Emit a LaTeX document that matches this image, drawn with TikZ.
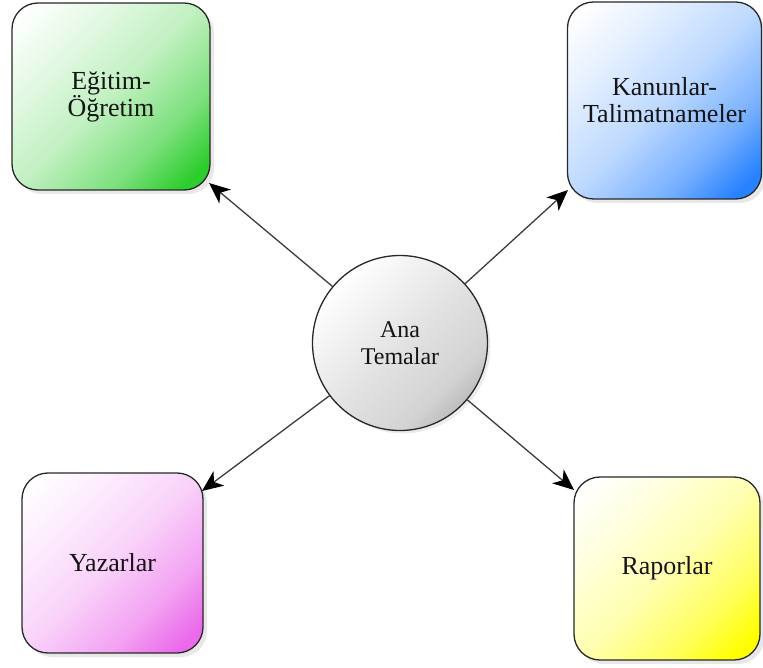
\documentclass[tikz,border=0pt]{standalone}
\usepackage{fontspec}
\setmainfont{Liberation Serif}
\usetikzlibrary{arrows.meta,shadows}
\definecolor{gEnd}{RGB}{45,205,45}
\definecolor{bEnd}{RGB}{40,130,255}
\definecolor{pEnd}{RGB}{235,105,235}
\definecolor{yEnd}{RGB}{255,255,0}
\definecolor{hEnd}{RGB}{175,175,175}
\definecolor{edgeC}{RGB}{40,40,40}
\definecolor{lineC}{RGB}{60,60,60}
\definecolor{txtC}{RGB}{20,20,20}
\newcommand\mkboxshade[2]{%
  \pgfdeclareverticalshading{#1}{100bp}{color(0bp)=(#2); color(20bp)=(#2);
    color(33bp)=(#2!62!white); color(50bp)=(#2!30!white); color(68bp)=(#2!12!white);
    color(82bp)=(white); color(100bp)=(white)}}
\mkboxshade{shG}{gEnd}
\mkboxshade{shB}{bEnd}
\mkboxshade{shP}{pEnd}
\mkboxshade{shY}{yEnd}
\pgfdeclareverticalshading{shH}{100bp}{color(0bp)=(hEnd); color(20bp)=(hEnd);
    color(32bp)=(hEnd!55!white); color(50bp)=(hEnd!35!white); color(75bp)=(white); color(100bp)=(white)}
\tikzset{
  themebox/.style={draw=edgeC, line width=1.3pt, rounded corners=26pt, inner sep=0pt,
    align=center, text=txtC, font=\fontsize{26}{27}\selectfont,
    drop shadow={shadow xshift=4pt, shadow yshift=-4pt, opacity=0.18, fill=gray}},
  shadeit/.style={shading=#1, shading angle=45},
  hub/.style={circle, draw=edgeC, line width=1.3pt, inner sep=0pt, minimum size=175pt,
    align=center, text=txtC, font=\fontsize{24}{27}\selectfont,
    shading=shH, shading angle=45,
    drop shadow={shadow xshift=3pt, shadow yshift=-3pt, opacity=0.15, fill=gray}},
  link/.style={draw=lineC, line width=1.3pt, -{Stealth[length=21pt,width=18pt,inset=6pt,color=black,fill=black]}}
}
\begin{document}
\begin{tikzpicture}[x=1pt,y=-1pt]
\useasboundingbox (0,0) rectangle (763,668);
\node[themebox, minimum width=198pt, minimum height=187pt, shadeit=shG] (edu) at (111,96.5) {Eğitim-\\Öğretim};
\node[themebox, minimum width=194pt, minimum height=197pt, shadeit=shB] (law) at (664.5,100.5) {Kanunlar-\\Talimatnameler};
\node[themebox, minimum width=181pt, minimum height=180pt, shadeit=shP] (auth) at (112.5,563) {Yazarlar};
\node[themebox, minimum width=186pt, minimum height=183pt, shadeit=shY] (rep) at (667,568.5) {Raporlar};
\node[hub] (hubc) at (400,343) {Ana\\Temalar};
\coordinate (tEdu) at (209,183);
\coordinate (tLaw) at (568,190);
\coordinate (tAuth) at (202,491);
\coordinate (tRep) at (574,490);
\draw[link] (hubc) -- (tEdu);
\draw[link] (hubc) -- (tLaw);
\draw[link] (hubc) -- (tAuth);
\draw[link] (hubc) -- (tRep);
\end{tikzpicture}
\end{document}
